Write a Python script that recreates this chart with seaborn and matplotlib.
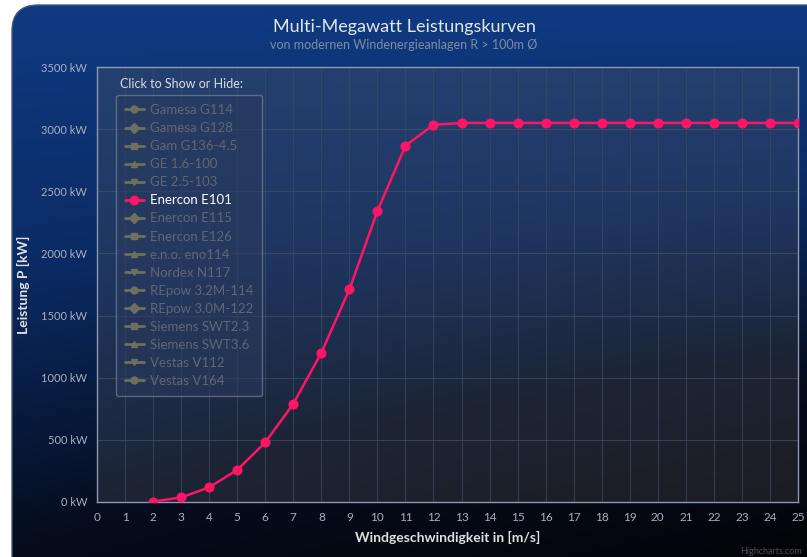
import numpy as np
import pandas as pd
import matplotlib
matplotlib.use("Agg")
import matplotlib.pyplot as plt
import seaborn as sns
from matplotlib.patches import FancyBboxPatch
from matplotlib.lines import Line2D
from matplotlib.colors import LinearSegmentedColormap

# Daten: Enercon E101 Leistungskurve
wind = list(range(2, 26))
leistung = [3, 37, 118, 258, 479, 790, 1200, 1710, 2340, 2867, 3034,
            3050, 3050, 3050, 3050, 3050, 3050, 3050, 3050, 3050, 3050, 3050, 3050, 3050]
anlagen = ["Gamesa G114", "Gamesa G128", "Gam G136-4.5", "GE 1.6-100", "GE 2.5-103",
           "Enercon E101", "Enercon E115", "Enercon E126", "e.n.o. eno114", "Nordex N117",
           "REpow 3.2M-114", "REpow 3.0M-122", "Siemens SWT2.3", "Siemens SWT3.6",
           "Vestas V112", "Vestas V164"]
marker_typen = ["o", "D", "s", "^", "v", "o", "D", "s", "^", "v", "o", "D", "s", "^", "v", "o"]
sichtbar = "Enercon E101"
y_ticks = list(range(0, 3501, 500))
x_ticks = list(range(0, 26))

df = pd.DataFrame({"wind": wind, "leistung": leistung})

sns.set_style("dark")
plt.rcParams['font.family'] = ['Lato', 'DejaVu Sans']

W, H = 807, 557
fig = plt.figure(figsize=(W / 100, H / 100), dpi=100, facecolor="white")

# Hintergrund mit Farbverlauf und abgerundeten Ecken
bg = fig.add_axes([0, 0, 1, 1])
bg.set_xlim(0, W)
bg.set_ylim(H, 0)
bg.axis("off")
box = FancyBboxPatch((12, 5), 840, 600, boxstyle="round,pad=0,rounding_size=26",
                     facecolor="none", edgecolor="#4a5a78", linewidth=1.0)
bg.add_patch(box)
yy, xx = np.mgrid[0:1:200j, 0:1:200j]
grad = 0.75 * yy + 0.35 * xx * yy
cmap_out = LinearSegmentedColormap.from_list("out", ["#0f3a82", "#0b2a62", "#050c1c", "#020305"])
im = bg.imshow(grad, cmap=cmap_out, extent=(12, 852, H + 5, 5), aspect="auto", zorder=0)
im.set_clip_path(box)

# Hauptachse
ax = fig.add_axes([97 / W, (H - 502) / H, (798 - 97) / W, (502 - 67) / H])
ax.set_facecolor("none")
yy2, xx2 = np.mgrid[0:1:200j, 0:1:200j]
grad2 = 0.8 * yy2 + 0.4 * xx2 * yy2
cmap_in = LinearSegmentedColormap.from_list("in", ["#24406f", "#1f3560", "#1c2434", "#1c1d22"])
ax.imshow(grad2, cmap=cmap_in, extent=(0, 1, 0, 1), transform=ax.transAxes,
          aspect="auto", zorder=0)

for x in x_ticks:
    ax.axvline(x, color="#3c4a64", linewidth=0.8, alpha=0.7, zorder=1)
for y in y_ticks:
    ax.axhline(y, color="#44506a", linewidth=0.8, alpha=0.7, zorder=1)

sns.lineplot(data=df, x="wind", y="leistung", ax=ax, color="#ff1466", linewidth=1.8,
             marker="o", markersize=6.5, markeredgecolor="#ff1466", zorder=5)

ax.set_xlim(0, 25)
ax.set_ylim(0, 3500)
ax.set_xticks(x_ticks)
ax.set_yticks(y_ticks)
ax.set_yticklabels([f"{v} kW" for v in y_ticks])
ax.tick_params(axis="both", labelsize=8, length=5, width=0.8, direction="out", pad=2)
ax.tick_params(axis="x", colors="#9aa2b2", labelcolor="#a8b0c0", labelsize=8.5)
ax.tick_params(axis="y", colors="#a8b0c0", labelcolor="#a8b0c0")
for s in ax.spines.values():
    s.set_color("#8d97ad")
    s.set_linewidth(1.0)
    s.set_visible(True)
ax.grid(False)

ax.set_xlabel("Windgeschwindigkeit in [m/s]", color="#e0e0e0", fontsize=10,
              fontweight="bold", labelpad=6)
ax.set_ylabel("Leistung P [kW]", color="#e0e0e0", fontsize=10, fontweight="bold")
ax.yaxis.set_label_coords(-0.095, 0.5)

# Titel
fig.text(404 / W, 1 - 27 / H, "Multi-Megawatt Leistungskurven", ha="center", va="center",
         color="#e4e6ec", fontsize=13)
fig.text(404 / W, 1 - 45 / H, "von modernen Windenergieanlagen R > 100m Ø", ha="center",
         va="center", color="#7f8ca4", fontsize=9)

# Legende
handles = []
for name, mk in zip(anlagen, marker_typen):
    if name == sichtbar:
        h = Line2D([0], [0], color="#ff1466", linewidth=2, marker="o", markersize=6)
    else:
        h = Line2D([0], [0], color="#6e705e", linewidth=2, marker=mk, markersize=5,
                   markeredgecolor="#6e705e")
    handles.append(h)
leg = ax.legend(handles, anlagen, loc="upper left", bbox_to_anchor=(0.027, 0.936),
                frameon=True, fontsize=9.5, labelspacing=0.46, handlelength=1.4,
                handletextpad=0.45, borderpad=0.7, borderaxespad=0, fancybox=True)
leg.get_frame().set_facecolor("#2a3a5c")
leg.get_frame().set_alpha(0.55)
leg.get_frame().set_edgecolor("#8a93a8")
leg.get_frame().set_linewidth(1.0)
for t, name in zip(leg.get_texts(), anlagen):
    t.set_color("#ffffff" if name == sichtbar else "#5f6678")
leg.set_zorder(10)

fig.text(120 / W, 1 - 84 / H, "Click to Show or Hide:", ha="left", va="center",
         color="#d8dce4", fontsize=9)

fig.text(802 / W, 1 - 551 / H, "Highcharts.com", ha="right", va="center",
         color="#4a4f5a", fontsize=6.5)

fig.savefig("out.png", dpi=100, facecolor="white")
